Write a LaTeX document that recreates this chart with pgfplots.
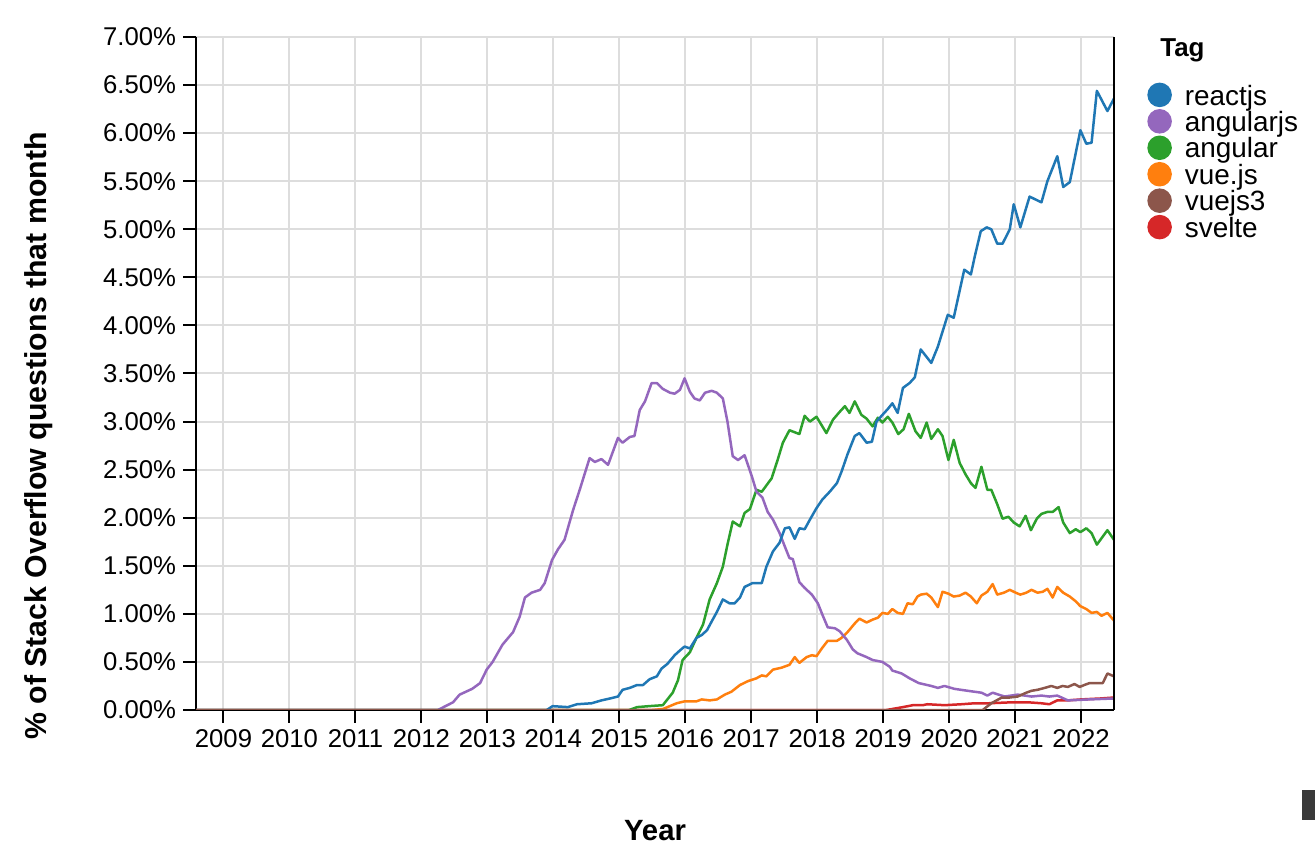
\documentclass[border=0pt]{standalone}
\usepackage{pgfplots}
\pgfplotsset{compat=1.18}
\usepackage{fontspec}
\setmainfont{Liberation Sans}
\definecolor{cReact}{HTML}{1F77B4}
\definecolor{cAngjs}{HTML}{9467BD}
\definecolor{cAng}{HTML}{2CA02C}
\definecolor{cVue}{HTML}{FF7F0E}
\definecolor{cVue3}{HTML}{8C564B}
\definecolor{cSvelte}{HTML}{D62728}
\definecolor{gridgray}{HTML}{DDDDDD}
\definecolor{darkbox}{HTML}{3A3A3A}
\begin{document}
\begin{tikzpicture}
\path[use as bounding box] (0,0) rectangle (657.5bp,422.5bp);
\begin{axis}[
  at={(98bp,67.5bp)}, anchor=south west,
  scale only axis, width=459bp, height=336.5bp,
  xmin=2008.5833, xmax=2022.5, ymin=0, ymax=7,
  clip mode=individual,
  axis x line*=bottom, axis y line*=left,
  axis line style={line width=1bp, black},
  tick align=outside, major tick length=6.5bp,
  tick style={line width=1bp, black},
  xtick={2009,2010,2011,2012,2013,2014,2015,2016,2017,2018,2019,2020,2021,2022},
  xticklabels={2009,2010,2011,2012,2013,2014,2015,2016,2017,2018,2019,2020,2021,2022},
  ytick={0,0.5,1,1.5,2,2.5,3,3.5,4,4.5,5,5.5,6,6.5,7},
  yticklabels={0.00\%,0.50\%,1.00\%,1.50\%,2.00\%,2.50\%,3.00\%,3.50\%,4.00\%,4.50\%,5.00\%,5.50\%,6.00\%,6.50\%,7.00\%},
  grid=major, major grid style={gridgray, line width=1bp},
  tick label style={font=\fontsize{12.9}{15}\selectfont},
  xticklabel style={inner sep=3bp},
  xlabel={Year},
  ylabel={\% of Stack Overflow questions that month},
  xlabel style={font=\fontsize{14.7}{17}\selectfont\bfseries, inner sep=0pt,
    at={([yshift=-65bp]axis description cs:0.5,0)}, anchor=base},
  ylabel style={font=\fontsize{15.2}{17}\selectfont\bfseries,
    at={([xshift=-74.5bp]axis description cs:0,0.4071)}, anchor=base},
  legend cell align=left,
  legend style={draw=none, fill=none, inner sep=0pt, at={(1.0359,0.9328)}, anchor=north west,
    font=\fontsize{14}{16}\selectfont, row sep=-1.0bp, column sep=6.5bp,
    nodes={inner sep=0pt, text height=10bp, text depth=3bp}},
  every axis plot/.append style={line width=1.25bp, line join=round},
]
% legend in the reference order
\addlegendimage{legend image code/.code={\fill[cReact] (5.5bp,1.6bp) circle[radius=5.5bp];}}
\addlegendentry{reactjs}
\addlegendimage{legend image code/.code={\fill[cAngjs] (5.5bp,1.6bp) circle[radius=5.5bp];}}
\addlegendentry{angularjs}
\addlegendimage{legend image code/.code={\fill[cAng] (5.5bp,1.6bp) circle[radius=5.5bp];}}
\addlegendentry{angular}
\addlegendimage{legend image code/.code={\fill[cVue] (5.5bp,1.6bp) circle[radius=5.5bp];}}
\addlegendentry{vue.js}
\addlegendimage{legend image code/.code={\fill[cVue3] (5.5bp,1.6bp) circle[radius=5.5bp];}}
\addlegendentry{vuejs3}
\addlegendimage{legend image code/.code={\fill[cSvelte] (5.5bp,1.6bp) circle[radius=5.5bp];}}
\addlegendentry{svelte}

% svelte
\addplot[cSvelte, forget plot] table {
x y
2008.58 0
2019.05 0
2019.30 0.03
2019.45 0.05
2019.60 0.05
2019.67 0.06
2019.93 0.05
2020.19 0.06
2020.39 0.07
2020.60 0.07
2020.95 0.08
2021.20 0.08
2021.40 0.07
2021.52 0.06
2021.64 0.10
2021.80 0.10
2022.00 0.11
2022.30 0.12
2022.50 0.13
};
% vue.js
\addplot[cVue, forget plot] table {
x y
2008.58 0
2015.50 0
2015.66 0.01
2015.87 0.07
2015.99 0.09
2016.17 0.09
2016.25 0.11
2016.37 0.10
2016.48 0.11
2016.60 0.16
2016.70 0.19
2016.83 0.26
2016.95 0.30
2017.08 0.33
2017.16 0.36
2017.23 0.35
2017.33 0.42
2017.46 0.44
2017.58 0.47
2017.66 0.55
2017.73 0.49
2017.84 0.55
2017.92 0.57
2017.99 0.56
2018.07 0.64
2018.16 0.72
2018.30 0.72
2018.37 0.75
2018.46 0.81
2018.57 0.90
2018.64 0.95
2018.75 0.91
2018.84 0.94
2018.92 0.96
2018.99 1.01
2019.07 1.00
2019.14 1.05
2019.22 1.01
2019.30 1.00
2019.37 1.11
2019.45 1.10
2019.52 1.18
2019.57 1.20
2019.66 1.21
2019.73 1.17
2019.83 1.07
2019.90 1.23
2019.99 1.21
2020.07 1.18
2020.16 1.19
2020.25 1.22
2020.33 1.18
2020.42 1.11
2020.49 1.19
2020.58 1.23
2020.66 1.31
2020.73 1.20
2020.83 1.22
2020.92 1.25
2021.01 1.22
2021.08 1.20
2021.17 1.22
2021.25 1.25
2021.34 1.22
2021.42 1.23
2021.49 1.26
2021.57 1.17
2021.64 1.28
2021.73 1.22
2021.83 1.18
2021.92 1.13
2021.99 1.08
2022.08 1.05
2022.16 1.01
2022.24 1.02
2022.31 0.98
2022.40 1.01
2022.50 0.93
};
% angular
\addplot[cAng, forget plot] table {
x y
2008.58 0
2015.15 0
2015.27 0.03
2015.45 0.04
2015.66 0.05
2015.81 0.18
2015.89 0.31
2015.96 0.52
2016.07 0.60
2016.17 0.75
2016.27 0.89
2016.37 1.15
2016.48 1.32
2016.57 1.49
2016.64 1.72
2016.72 1.96
2016.83 1.91
2016.90 2.05
2016.98 2.09
2017.08 2.29
2017.16 2.27
2017.31 2.41
2017.40 2.60
2017.48 2.78
2017.58 2.91
2017.73 2.87
2017.81 3.06
2017.89 3.00
2017.99 3.05
2018.14 2.88
2018.24 3.02
2018.34 3.10
2018.42 3.16
2018.49 3.09
2018.57 3.21
2018.67 3.07
2018.75 3.03
2018.84 2.95
2018.92 3.04
2018.99 2.99
2019.07 3.05
2019.14 2.99
2019.23 2.87
2019.31 2.92
2019.39 3.08
2019.49 2.90
2019.57 2.83
2019.66 2.99
2019.73 2.82
2019.83 2.92
2019.90 2.85
2019.99 2.60
2020.07 2.81
2020.16 2.57
2020.25 2.45
2020.33 2.36
2020.40 2.31
2020.49 2.53
2020.58 2.29
2020.64 2.29
2020.73 2.14
2020.81 1.99
2020.90 2.01
2020.98 1.95
2021.07 1.91
2021.16 2.02
2021.24 1.87
2021.33 1.99
2021.40 2.04
2021.49 2.06
2021.57 2.06
2021.66 2.11
2021.73 1.95
2021.83 1.84
2021.92 1.88
2021.99 1.85
2022.08 1.89
2022.16 1.84
2022.24 1.72
2022.40 1.87
2022.50 1.77
};
% angularjs
\addplot[cAngjs, forget plot] table {
x y
2008.58 0
2012.25 0
2012.48 0.08
2012.58 0.16
2012.77 0.22
2012.89 0.28
2012.99 0.42
2013.08 0.50
2013.23 0.68
2013.39 0.81
2013.49 0.97
2013.57 1.17
2013.67 1.22
2013.80 1.25
2013.87 1.32
2013.98 1.56
2014.07 1.67
2014.17 1.77
2014.30 2.08
2014.40 2.29
2014.55 2.62
2014.63 2.58
2014.73 2.61
2014.83 2.55
2014.98 2.83
2015.05 2.78
2015.16 2.84
2015.23 2.85
2015.31 3.12
2015.39 3.21
2015.49 3.40
2015.57 3.40
2015.66 3.34
2015.77 3.30
2015.84 3.29
2015.92 3.33
2015.99 3.45
2016.07 3.31
2016.14 3.24
2016.22 3.22
2016.30 3.30
2016.40 3.32
2016.48 3.30
2016.57 3.24
2016.64 3.00
2016.72 2.64
2016.80 2.60
2016.90 2.65
2017.01 2.43
2017.08 2.27
2017.17 2.21
2017.25 2.06
2017.33 1.98
2017.43 1.84
2017.51 1.70
2017.58 1.58
2017.63 1.57
2017.73 1.33
2017.81 1.27
2017.92 1.20
2018.01 1.11
2018.08 0.99
2018.16 0.86
2018.27 0.85
2018.34 0.82
2018.45 0.73
2018.54 0.63
2018.61 0.59
2018.75 0.55
2018.84 0.52
2018.99 0.50
2019.10 0.45
2019.14 0.41
2019.28 0.38
2019.40 0.33
2019.54 0.28
2019.73 0.25
2019.83 0.23
2019.93 0.25
2020.08 0.22
2020.28 0.20
2020.49 0.18
2020.58 0.15
2020.66 0.18
2020.84 0.14
2021.04 0.16
2021.25 0.14
2021.40 0.15
2021.52 0.14
2021.64 0.15
2021.80 0.10
2022.13 0.11
2022.50 0.12
};
% reactjs
\addplot[cReact, forget plot] table {
x y
2008.58 0
2013.90 0
2013.99 0.04
2014.22 0.03
2014.36 0.06
2014.58 0.07
2014.73 0.10
2014.86 0.12
2014.98 0.14
2015.05 0.21
2015.16 0.23
2015.27 0.26
2015.36 0.26
2015.46 0.32
2015.57 0.35
2015.64 0.43
2015.73 0.48
2015.84 0.57
2015.92 0.62
2015.99 0.66
2016.07 0.64
2016.17 0.75
2016.25 0.78
2016.33 0.83
2016.40 0.92
2016.48 1.02
2016.57 1.15
2016.67 1.11
2016.75 1.11
2016.83 1.17
2016.90 1.28
2017.02 1.32
2017.16 1.32
2017.23 1.49
2017.33 1.65
2017.43 1.74
2017.51 1.89
2017.58 1.90
2017.66 1.78
2017.73 1.89
2017.81 1.88
2017.89 1.98
2017.99 2.10
2018.08 2.19
2018.19 2.27
2018.30 2.36
2018.37 2.48
2018.46 2.66
2018.57 2.85
2018.64 2.88
2018.75 2.78
2018.83 2.79
2018.90 3.00
2018.99 3.07
2019.07 3.13
2019.14 3.19
2019.22 3.09
2019.30 3.35
2019.40 3.40
2019.48 3.46
2019.57 3.75
2019.73 3.61
2019.83 3.78
2019.98 4.11
2020.07 4.08
2020.23 4.58
2020.33 4.53
2020.39 4.72
2020.48 4.98
2020.57 5.02
2020.64 5.00
2020.73 4.85
2020.81 4.85
2020.92 5.00
2020.98 5.26
2021.08 5.02
2021.22 5.34
2021.40 5.28
2021.49 5.50
2021.64 5.76
2021.73 5.44
2021.83 5.49
2021.99 6.03
2022.08 5.89
2022.16 5.90
2022.24 6.44
2022.40 6.23
2022.50 6.36
};
% vuejs3
\addplot[cVue3, forget plot] table {
x y
2008.58 0
2020.51 0
2020.64 0.07
2020.80 0.13
2020.92 0.13
2021.04 0.14
2021.17 0.18
2021.25 0.20
2021.34 0.21
2021.45 0.23
2021.55 0.25
2021.64 0.23
2021.72 0.25
2021.80 0.24
2021.90 0.27
2021.98 0.24
2022.05 0.26
2022.13 0.28
2022.24 0.28
2022.33 0.28
2022.40 0.38
2022.50 0.35
};
\draw[black, line width=1bp] (rel axis cs:1,0) -- (rel axis cs:1,1);
\end{axis}
\node[anchor=base west, font=\fontsize{13}{15}\selectfont\bfseries, inner sep=0pt] at (580bp,394bp) {Tag};
\fill[darkbox] (651bp,12.5bp) rectangle (657.5bp,27.5bp);
\end{tikzpicture}
\end{document}
